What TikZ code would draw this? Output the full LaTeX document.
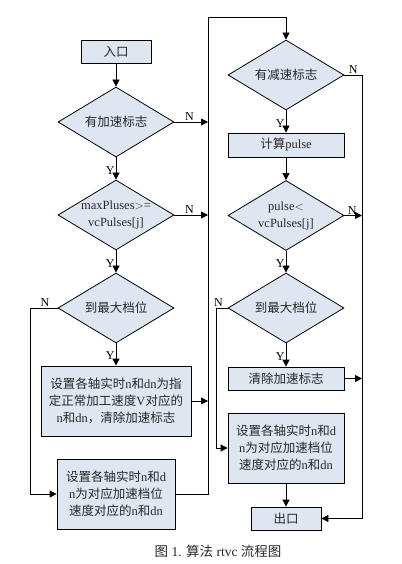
\documentclass[tikz,border=0pt]{standalone}
\usepackage{fontspec}
\setmainfont{Liberation Serif}
\newfontfamily\cjk{Noto Sans CJK SC}
\usetikzlibrary{shapes.geometric,arrows.meta}
\definecolor{boxfill}{RGB}{221,230,241}
\definecolor{txtc}{RGB}{40,40,40}
\newcommand{\zh}[1]{{\cjk #1}}
\tikzset{
  base/.style={draw=black, line width=0.8pt, fill=boxfill, inner sep=0pt},
  proc/.style={base, rectangle, align=center, text=txtc},
  dia/.style={base, diamond, minimum width=116pt, minimum height=70pt},
  dtxt/.style={align=center, text=txtc, inner sep=0pt},
  arr/.style={-{Triangle[length=7pt,width=7pt]}, line width=0.8pt},
  ln/.style={line width=0.8pt},
  lab/.style={font=\fontsize{12}{12}\selectfont, text=black, inner sep=1pt}
}
\begin{document}
\begin{tikzpicture}[x=1pt,y=-1pt, font=\fontsize{12.5}{17}\selectfont]
\useasboundingbox (0,0) rectangle (401,564);
% left column
\node[proc, minimum width=70pt, minimum height=23pt] (in) at (116,51.5) {\zh{入口}};
\node[dia] (d1) at (116,122) {};
\node[dtxt] (d1t) at (d1) {\zh{有加速标志}};
\node[dia] (d2) at (116,215) {};
\node[dtxt] (d2t) at (d2) {maxPluses$>$=\\vcPulses[j]};
\node[dia] (d3) at (116,308) {};
\node[dtxt] (d3t) at (d3) {\zh{到最大档位}};
\node[proc, minimum width=150pt, minimum height=70pt] (b3) at (116,401) {\zh{设置各轴实时}n\zh{和}dn\zh{为指}\\\zh{定正常加工速度}V\zh{对应的}\\n\zh{和}dn\zh{，清除加速标志}};
\node[proc, minimum width=118pt, minimum height=70pt] (b4) at (116,494) {\zh{设置各轴实时}n\zh{和}d\\n\zh{为对应加速档位}\\\zh{速度对应的}n\zh{和}dn};
% right column
\node[dia] (d4) at (286,75) {};
\node[dtxt] (d4t) at (d4) {\zh{有减速标志}};
\node[proc, minimum width=116pt, minimum height=24pt] (b5) at (286,145) {\zh{计算}pulse};
\node[dia] (d5) at (286,215.5) {};
\node[dtxt] (d5t) at (d5) {pulse$<$\\vcPulses[j]};
\node[dia] (d6) at (286,308) {};
\node[dtxt] (d6t) at (d6) {\zh{到最大档位}};
\node[proc, minimum width=116pt, minimum height=23pt] (b6) at (286,378.5) {\zh{清除加速标志}};
\node[proc, minimum width=116pt, minimum height=70pt] (b7) at (286,448) {\zh{设置各轴实时}n\zh{和}d\\n\zh{为对应加速档位}\\\zh{速度对应的}n\zh{和}dn};
\node[proc, minimum width=70pt, minimum height=23pt] (out) at (286,518.5) {\zh{出口}};
% caption
\node[text=txtc, font=\fontsize{13.5}{13.5}\selectfont] (cap) at (218,551) {\zh{图} 1. \zh{算法} rtvc \zh{流程图}};
% bus coordinates
\coordinate (busL) at (208,17);
\coordinate (busR) at (362,75);
% left column connectors
\draw[arr] (in) -- (d1);
\draw[arr] (d1) -- node[lab, left, pos=0.6] {Y} (d2);
\draw[arr] (d2) -- node[lab, left, pos=0.6] {Y} (d3);
\draw[arr] (d3) -- node[lab, left, pos=0.55] {Y} (b3);
\draw[arr] (d1.east) -- node[lab, above, pos=0.45] {N} (busL |- d1.east);
\draw[arr] (d2.east) -- node[lab, above, pos=0.45] {N} (busL |- d2.east);
\draw[arr] (b3.east) -- (busL |- b3.east);
\draw[arr] (d3.west) -- node[lab, above left, pos=0.25] {N} (30,308) -- (30,494) -- (b4.west);
\draw[arr] (b4.east) -- (busL |- b4.east) -- (busL) -- (d4.north |- busL) -- (d4.north);
% right column connectors
\draw[arr] (d4) -- node[lab, left, pos=0.6] {Y} (b5);
\draw[arr] (b5) -- (d5);
\draw[arr] (d5) -- node[lab, left, pos=0.6] {Y} (d6);
\draw[arr] (d6) -- node[lab, left, pos=0.55] {Y} (b6);
\draw[arr] (b7) -- (out);
\draw[arr] (d4.east) -- node[lab, above, pos=0.5] {N} (busR) -- (busR |- out.east) -- (out.east);
\draw[arr] (d5.east) -- node[lab, above, pos=0.45] {N} (busR |- d5.east);
\draw[arr] (b6.east) -- (busR |- b6.east);
\draw[arr] (d6.west) -- node[lab, above left, pos=0.3] {N} (216,308) -- (216,448) -- (b7.west);
\end{tikzpicture}
\end{document}
